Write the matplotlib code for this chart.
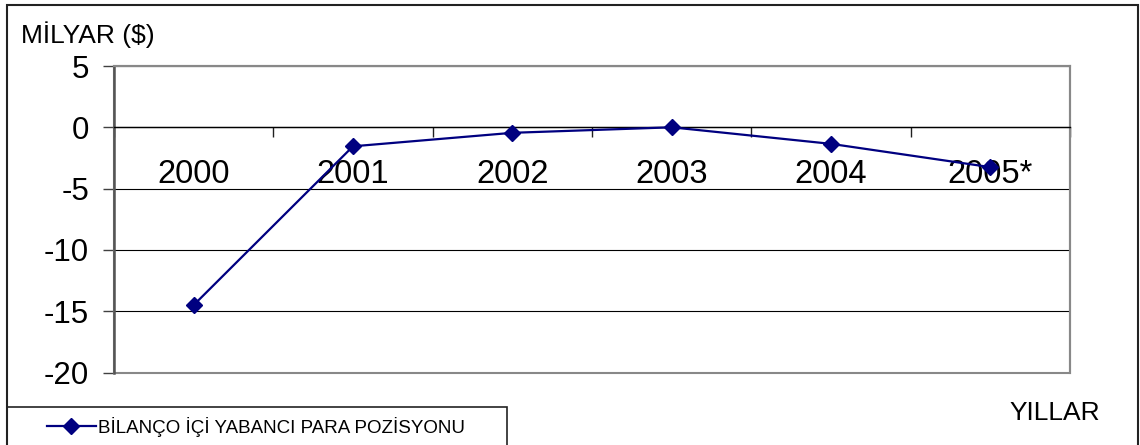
import matplotlib
matplotlib.use("Agg")
import matplotlib.pyplot as plt
from matplotlib.patches import Rectangle
from matplotlib.lines import Line2D

plt.rcParams['font.family'] = ['Liberation Sans', 'DejaVu Sans']

years = ['2000', '2001', '2002', '2003', '2004', '2005*']
positions = [-14.5, -1.55, -0.45, 0.0, -1.35, -3.25]
series_name = 'BİLANÇO İÇİ YABANCI PARA POZİSYONU'

W, H = 1140, 445
fig = plt.figure(figsize=(W / 100, H / 100), dpi=100)

# plot area in pixels
left, right, top, bottom = 114, 1070, 66, 372.5
ax = fig.add_axes([left / W, 1 - bottom / H, (right - left) / W, (bottom - top) / H])

x = list(range(len(years)))
ax.plot(x, positions, color='#000080', lw=1.6, marker='D', markersize=8.5,
        zorder=3, clip_on=False)

ax.set_xlim(-0.5, len(years) - 0.5)
ax.set_ylim(-20, 5)
ax.set_yticks([5, 0, -5, -10, -15, -20])
ax.set_yticklabels(['5', '0', '-5', '-10', '-15', '-20'])
ax.tick_params(axis='y', direction='out', length=8, width=1, color='#404040',
               pad=10, labelsize=22.5)

# category axis crosses at zero
ax.spines['bottom'].set_position(('data', 0))
ax.spines['bottom'].set_color('black')
ax.spines['bottom'].set_linewidth(1)
ax.set_xticks([i - 0.5 for i in range(len(years) + 1)])
ax.set_xticklabels([])
ax.set_xticks(x, minor=True)
ax.set_xticklabels(years, minor=True)
ax.tick_params(axis='x', which='major', direction='out', length=7.5, width=1,
               color='#202020')
ax.tick_params(axis='x', which='minor', length=0, pad=23, labelsize=23.5)

for s in ['top', 'right']:
    ax.spines[s].set_color('#888888')
    ax.spines[s].set_linewidth(1.5)
ax.spines['left'].set_color('#555555')
ax.spines['left'].set_linewidth(1.8)

ax.yaxis.grid(True, color='black', lw=0.8)
ax.set_axisbelow(True)
ax.add_patch(Rectangle((0, 0), 1, 1, transform=ax.transAxes, fill=False,
                       edgecolor='#888888', lw=1.5, clip_on=False, zorder=1))

# outer chart frame and legend box
fig.patches.append(Rectangle((7 / W, -0.05), (1138 - 7) / W, 1.05 - 5 / H,
                             transform=fig.transFigure, fill=False,
                             edgecolor='#222222', lw=1.5))
fig.patches.append(Rectangle((7 / W, -0.05), (507 - 7) / W, 0.05 + 1 - 407 / H,
                             transform=fig.transFigure, fill=False,
                             edgecolor='#222222', lw=1.2))

handle = Line2D([], [], color='#000080', lw=1.6, marker='D', markersize=8.5)
fig.legend([handle], [series_name], loc='center left',
           bbox_to_anchor=(47 / W, 1 - 427 / H), frameon=False,
           fontsize=13.5, handlelength=2.6, handletextpad=0.1,
           borderpad=0, borderaxespad=0)

fig.text(21 / W, 1 - 35 / H, 'MİLYAR ($)', fontsize=19, ha='left', va='center')
fig.text(1100 / W, 1 - 413 / H, 'YILLAR', fontsize=19, ha='right', va='center')

fig.savefig('out.png', dpi=100)
